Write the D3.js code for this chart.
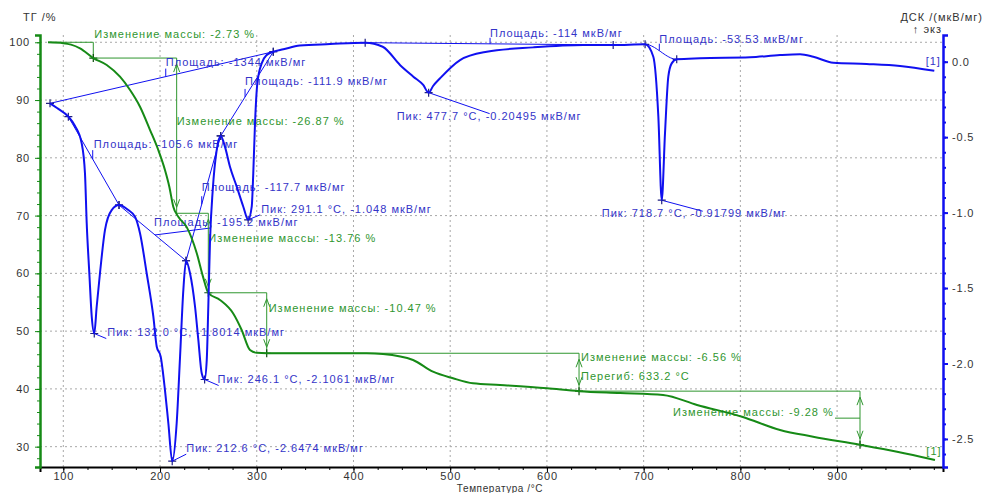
<!DOCTYPE html>
<html>
<head>
<meta charset="utf-8">
<script src="https://cdn.jsdelivr.net/npm/d3@7"></script>
<style>
  body { margin: 0; background: #fff; }
  svg { display: block; font-family: "Liberation Sans", Arial, sans-serif; }
  .grid line { stroke: #a8a8a8; stroke-dasharray: 2,3; }
  .tick text { font-size: 11px; fill: #333; letter-spacing: 0.8px; }
  .ann { font-size: 11px; letter-spacing: 1px; }
  .tg-ann { fill: #2f962f; }
  .dsc-ann { fill: #3434c8; }
</style>
</head>
<body>
<svg width="984" height="493"></svg>
<script>
// DSC curve (temperature °C, мкВ/мг)
const dscTemp = [86.25, 93.5, 105.2, 112.1, 119.0, 122.4, 124.2, 126.9, 129.4, 132.0, 134.5, 137.9,
  143.1, 150.0, 157.6, 167.2, 174.1, 179.3, 186.2, 193.1, 196.6, 200.7, 205.1, 208.6, 212.6,
  217.2, 220.7, 224.1, 226.9, 231.0, 236.2, 239.6, 243.1, 246.1, 248.3, 249.9, 251.7, 254.5,
  258.6, 262.7, 267.1, 272.3, 279.3, 286.1, 291.1, 294.8, 296.4, 298.2, 300.6, 305.1, 310.3,
  317.1, 327.5, 344.6, 375.8, 412.1, 430.2, 448.3, 461.9, 472.1, 477.7, 482.3, 489.5, 510.2,
  537.8, 585.9, 637.6, 668.5, 701.5, 710.0, 715.2, 718.7, 722.1, 725.5, 729.0, 734.2, 758.3,
  810.0, 841.0, 861.7, 875.4, 896.1, 930.6, 965.1, 1000.5]
const dscValue = [-0.276, -0.307, -0.364, -0.426, -0.541, -0.740, -1.071, -1.402, -1.690, -1.8014,
  -1.624, -1.402, -1.115, -0.983, -0.950, -0.983, -1.027, -1.137, -1.402, -1.690, -1.889, -1.955,
  -2.176, -2.396, -2.6474, -2.396, -1.955, -1.513, -1.319, -1.402, -1.624, -1.844, -2.065, -2.1061,
  -1.977, -1.624, -1.182, -0.850, -0.585, -0.492, -0.563, -0.696, -0.828, -0.961, -1.048, -0.961,
  -0.740, -0.408, -0.143, -0.011, 0.044, 0.066, 0.082, 0.107, 0.117, 0.126, 0.099, -0.023, -0.099,
  -0.154, -0.20495, -0.161, -0.110, 0.011, 0.066, 0.095, 0.111, 0.111, 0.115, 0.033, -0.364,
  -0.91799, -0.472, -0.099, -0.011, 0.016, 0.023, 0.029, 0.044, 0.049, 0.033, -0.007, -0.015,
  -0.028, -0.060]

// TG curve (temperature °C, %)
const tgTemp = [84.2, 100.0, 108.0, 117.3, 131.0, 144.9, 158.6, 169.0, 179.3, 189.7, 198.2, 205.1,
  209.6, 213.7, 218.9, 227.6, 237.9, 244.4, 249.9, 262.0, 275.5, 284.4, 293.0, 300.0, 310.3,
  413.7, 430.5, 461.6, 482.2, 502.9, 523.6, 551.5, 600.1, 633.2, 675.6, 720.1, 755.2, 801.7,
  841.0, 875.2, 923.7, 962.0, 1001.2]
const tgValue = [100, 99.85, 99.6, 98.96, 97.27, 96.07, 94.04, 91.74, 88.85, 84.81, 81.35, 77.89,
  75.0, 71.54, 69.8, 68.0, 63.53, 59.43, 56.64, 55.39, 53.09, 50.20, 46.74, 46.25, 46.17,
  46.17, 46.04, 45.0, 42.98, 41.84, 40.97, 40.68, 40.11, 39.61, 39.29, 38.95, 37.22, 35.19,
  32.89, 31.73, 30.33, 29.13, 27.69]

// peaks
const peakTemp = [132.0, 212.6, 246.1, 291.1, 477.7, 718.7]
const peakValue = [-1.8014, -2.6474, -2.1061, -1.048, -0.20495, -0.91799]

// integrated areas: baseline ends and label point
const areaText = ['-1344', '-105.6', '-195.2', '-117.7', '-111.9', '-114', '-53.53']
const areaStartT = [86.25, 105.2, 157.6, 226.9, 262.7, 412.1, 701.5]
const areaStartV = [-0.276, -0.364, -0.950, -1.319, -0.492, 0.126, 0.115]
const areaEndT = [317.1, 157.6, 226.9, 262.7, 317.1, 668.5, 734.2]
const areaEndV = [0.066, -0.950, -1.319, -0.492, 0.066, 0.111, 0.016]
const areaLabelT = [205.9, 130.4, 194.8, 243.1, 287.9, 541.2, 716.2]

// mass changes
const massChange = [-2.73, -26.87, -13.76, -10.47, -6.56, -9.28]
const massTemp = [131.0, 217.2, 249.9, 310.3, 633.2, 923.7]
const inflectionTemp = 633.2

// ticks
const xTicks = [100, 200, 300, 400, 500, 600, 700, 800, 900]
const tgTicks = [30, 40, 50, 60, 70, 80, 90, 100]
const dscTicks = [0, -0.5, -1, -1.5, -2, -2.5]

// label offsets in px
const peakLeader = [[12, 5], [14, -7], [14, 6], [12, -5], [61, 21], [41, 11]]
const peakLabel = [[13, -1], [14, -13], [13, 0], [13, -11], [-32, 24], [-60, 13]]
const areaLeader = [[0, -8], [0, -9], [56, -7], [0, -8], [0, -8], [0, -6], [0, -7]]
const areaLabel = [[0, -14], [1, -15], [-1, -13], [0, -17], [0, -16], [0, -11], [0, -12]]
const massLabel = [[1, -8], [0, 63], [0, 25], [2, 15], [2, 4], [-187, 21]]

const margin = {top: 35, right: 41, bottom: 26, left: 40}
const width = 984 - margin.left - margin.right
const height = 493 - margin.top - margin.bottom

const tgColor = '#168a16'
const dscColor = '#1010f0'
const tgAnn = '#2f962f'

const x = d3.scaleLinear().domain([75.9, 1009.5]).range([0, width])
const yTg = d3.scaleLinear().domain([26.48, 101.26]).range([height, 0])
const yDsc = d3.scaleLinear().domain([-2.686, 0.177]).range([height, 0])

const svg = d3.select('svg')
const g = svg.append('g').attr('transform', `translate(${margin.left},${margin.top})`)

// grid
const grid = g.append('g').classed('grid', true)
grid.selectAll('.gx').data(xTicks).enter().append('line')
  .attr('x1', d => x(d)).attr('x2', d => x(d)).attr('y1', 0).attr('y2', height)
grid.selectAll('.gy').data(tgTicks).enter().append('line')
  .attr('x1', 0).attr('x2', width).attr('y1', d => yTg(d)).attr('y2', d => yTg(d))

// axes
const minorX = d3.range(100, 1001, 25)
g.append('g').attr('transform', `translate(0,${height})`)
  .call(d3.axisBottom(x).tickValues(minorX).tickSize(3).tickFormat(''))
  .call(a => a.select('.domain').remove())
const xAxisG = g.append('g').attr('transform', `translate(0,${height})`)
  .call(d3.axisBottom(x).tickValues(xTicks).tickSize(5).tickPadding(0).tickFormat(d3.format('d')))
xAxisG.select('.domain').attr('stroke', '#000').attr('stroke-width', 2)

g.append('g').call(d3.axisLeft(yTg).tickValues(d3.range(28, 101, 2)).tickSize(3).tickFormat(''))
  .call(a => a.select('.domain').remove())
  .selectAll('line').attr('stroke', tgColor)
const yTgG = g.append('g').call(d3.axisLeft(yTg).tickValues(tgTicks).tickSize(5).tickPadding(5))
yTgG.select('.domain').attr('stroke', tgColor).attr('stroke-width', 2.5)
yTgG.selectAll('.tick line').attr('stroke', tgColor)

g.append('g').attr('transform', `translate(${width},0)`)
  .call(d3.axisRight(yDsc).tickValues(d3.range(-26, 2).map(d => d / 10)).tickSize(3).tickFormat(''))
  .call(a => a.select('.domain').remove())
  .selectAll('line').attr('stroke', dscColor).attr('stroke-width', 2)
const yDscG = g.append('g').attr('transform', `translate(${width},0)`)
  .call(d3.axisRight(yDsc).tickValues(dscTicks).tickSize(5).tickPadding(4).tickFormat(d3.format('.1f')))
yDscG.select('.domain').attr('stroke', dscColor).attr('stroke-width', 2.5)
yDscG.selectAll('.tick line').attr('stroke', dscColor).attr('stroke-width', 2)
yDscG.selectAll('.tick text').text(d => d3.format('.1f')(d).replace('−', '-'))

// axis titles
svg.append('text').attr('class', 'ann').attr('x', 23).attr('y', 21).attr('fill', '#333').text('ТГ /%')
svg.append('text').attr('class', 'ann').attr('x', 983).attr('y', 21).attr('text-anchor', 'end')
  .attr('fill', '#333').text('ДСК /(мкВ/мг)')
svg.append('text').attr('class', 'ann').attr('x', 942).attr('y', 33).attr('text-anchor', 'end')
  .attr('fill', '#333').text('↑ экз')
svg.append('text').attr('x', 500).attr('y', 491.5).attr('text-anchor', 'middle')
  .attr('fill', '#333').style('font-size', '10px').style('letter-spacing', '0.6px')
  .text('Температура /°C')

// curves
const dscData = dscTemp.map((t, i) => [t, dscValue[i]])
const tgData = tgTemp.map((t, i) => [t, tgValue[i]])

const dscLine = d3.line().x(d => x(d[0])).y(d => yDsc(d[1])).curve(d3.curveMonotoneX)
const tgLine = d3.line().x(d => x(d[0])).y(d => yTg(d[1])).curve(d3.curveMonotoneX)

const cross = (sel, px, py, color) => sel.append('path')
  .attr('d', `M${px - 4},${py}H${px + 4}M${px},${py - 4}V${py + 4}`)
  .attr('stroke', color).attr('stroke-width', 1.2).attr('fill', 'none')

const annG = g.append('g').attr('fill', 'none')

// ---- DSC areas
areaText.forEach((txt, i) => {
  const x0 = x(areaStartT[i]), y0 = yDsc(areaStartV[i])
  const x1 = x(areaEndT[i]), y1 = yDsc(areaEndV[i])
  const curved = i === 6
  const s = t => curved ? t * t * (3 - 2 * t) : t
  if (curved) {
    const pts = d3.range(0, 1.001, 0.05).map(t => [
      areaStartT[i] + t * (areaEndT[i] - areaStartT[i]),
      areaStartV[i] + s(t) * (areaEndV[i] - areaStartV[i])])
    annG.append('path').attr('d', dscLine(pts)).attr('stroke', dscColor).attr('stroke-width', 1)
  } else {
    annG.append('line').attr('x1', x0).attr('y1', y0).attr('x2', x1).attr('y2', y1)
      .attr('stroke', dscColor).attr('stroke-width', 1)
  }
  const tt = (areaLabelT[i] - areaStartT[i]) / (areaEndT[i] - areaStartT[i])
  const bx = x(areaLabelT[i])
  const by = yDsc(areaStartV[i] + s(tt) * (areaEndV[i] - areaStartV[i]))
  annG.append('line').attr('x1', bx).attr('y1', by)
    .attr('x2', bx + areaLeader[i][0]).attr('y2', by + areaLeader[i][1])
    .attr('stroke', dscColor).attr('stroke-width', 1)
  g.append('text').attr('class', 'ann dsc-ann')
    .attr('x', bx + areaLabel[i][0]).attr('y', by + areaLabel[i][1]).attr('dy', '0.35em')
    .text(`Площадь: ${txt} мкВ/мг`)
  cross(annG, x0, y0, '#202080')
  cross(annG, x1, y1, '#202080')
})

// ---- DSC peaks
peakTemp.forEach((t, i) => {
  const px = x(t), py = yDsc(peakValue[i])
  annG.append('line').attr('x1', px).attr('y1', py)
    .attr('x2', px + peakLeader[i][0]).attr('y2', py + peakLeader[i][1])
    .attr('stroke', dscColor).attr('stroke-width', 1)
  cross(annG, px, py, '#202080')
  g.append('text').attr('class', 'ann dsc-ann')
    .attr('x', px + peakLabel[i][0]).attr('y', py + peakLabel[i][1]).attr('dy', '0.35em')
    .text(`Пик: ${t.toFixed(1)} °C, ${peakValue[i]} мкВ/мг`)
})

// ---- TG mass changes
const levels = [100]
massChange.forEach(d => levels.push(+(levels[levels.length - 1] + d).toFixed(2)))
massChange.forEach((d, i) => {
  const ax = x(massTemp[i])
  const yTop = yTg(levels[i]), yBot = yTg(levels[i + 1])
  const xPrev = i === 0 ? x(86.3) : x(massTemp[i - 1])
  annG.append('line').attr('x1', xPrev).attr('x2', ax).attr('y1', yTop).attr('y2', yTop)
    .attr('stroke', tgAnn).attr('stroke-width', 1)
  annG.append('line').attr('x1', ax).attr('x2', ax).attr('y1', yTop).attr('y2', yBot)
    .attr('stroke', tgAnn).attr('stroke-width', 1)
  if (yBot - yTop > 20) {
    const a = 6
    annG.append('path')
      .attr('d', `M${ax - 3},${yTop + a + 8}L${ax},${yTop + a}L${ax + 3},${yTop + a + 8}` +
                 `M${ax - 3},${yBot - a - 8}L${ax},${yBot - a}L${ax + 3},${yBot - a - 8}`)
      .attr('stroke', tgAnn).attr('stroke-width', 1)
  }
  if (i !== 1) cross(annG, ax, yBot, '#0c4a0c')
  g.append('text').attr('class', 'ann tg-ann')
    .attr('x', ax + massLabel[i][0]).attr('y', yTop + massLabel[i][1]).attr('dy', '0.35em')
    .text(`Изменение массы: ${d.toFixed(2)} %`)
  if (i === 5) {
    annG.append('line').attr('x1', ax - 25).attr('x2', ax)
      .attr('y1', yTop + 27).attr('y2', yTop + 27).attr('stroke', tgAnn).attr('stroke-width', 1)
  }
})
g.append('text').attr('class', 'ann tg-ann')
  .attr('x', x(inflectionTemp) + 2).attr('y', yTg(levels[4]) + 23).attr('dy', '0.35em')
  .text(`Перегиб: ${inflectionTemp.toFixed(1)} °C`)

// curves on top
g.append('path').datum(tgData).attr('d', tgLine)
  .attr('fill', 'none').attr('stroke', tgColor).attr('stroke-width', 2)
g.append('path').datum(dscData).attr('d', dscLine)
  .attr('fill', 'none').attr('stroke', dscColor).attr('stroke-width', 2)

// [1] end tags
const tgEnd = tgData[tgData.length - 1], dscEnd = dscData[dscData.length - 1]
g.append('text').attr('class', 'ann tg-ann').attr('text-anchor', 'middle')
  .attr('x', x(tgEnd[0]) - 1).attr('y', yTg(tgEnd[1]) - 9).attr('dy', '0.35em').text('[1]')
g.append('text').attr('class', 'ann dsc-ann').attr('text-anchor', 'middle')
  .attr('x', x(dscEnd[0]) - 1).attr('y', yDsc(dscEnd[1]) - 10).attr('dy', '0.35em').text('[1]')
</script>
</body>
</html>
